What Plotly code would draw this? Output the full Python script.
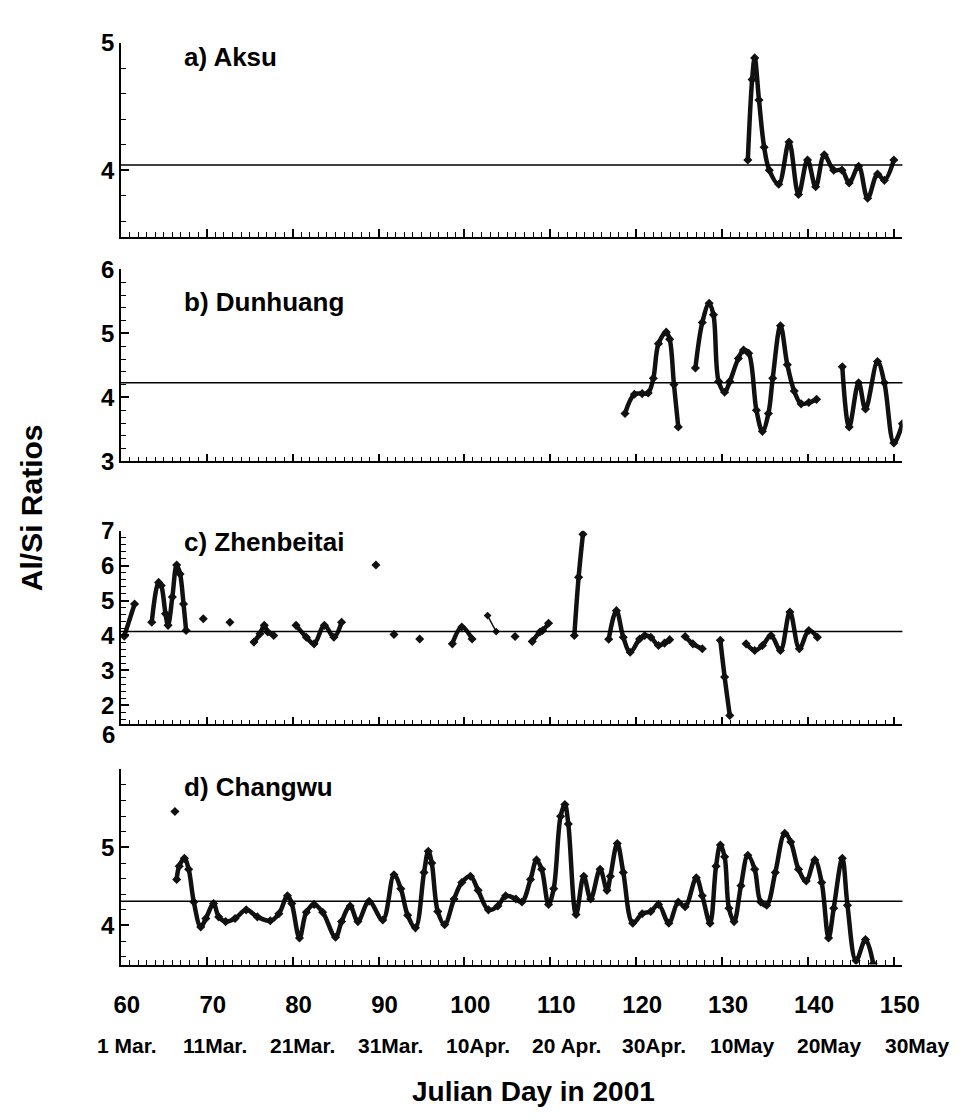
import plotly.graph_objects as go

# ---------------- data (Julian day, Al/Si ratio) ----------------
aksu_day = [133.0, 133.5, 133.8, 134.3, 134.9, 135.5, 136.6, 137.8, 138.9, 139.95, 140.9, 141.9,
            143.0, 143.96, 144.8, 145.9, 146.95, 148.1, 148.9, 150.0]
aksu_val = [4.08, 4.71, 4.88, 4.55, 4.18, 4.0, 3.89, 4.22, 3.81, 4.08, 3.87, 4.12,
            4.0, 4.0, 3.9, 4.03, 3.78, 3.97, 3.92, 4.08]

dun_day = [118.7, 119.8, 120.7, 121.4, 122.0, 122.6, 123.5, 123.9, 124.4, 124.9, None,
           126.9, 127.7, 128.5, 129.0, 129.6, 130.3, 130.9, 131.9, 132.5, 133.1, 134.0, 134.7,
           135.4, 135.9, 136.8, 137.6, 138.4, 139.2, 140.1, 141.0, None,
           144.0, 144.8, 145.9, 146.7, 148.1, 148.9, 150.0, 151.0]
dun_val = [3.75, 4.05, 4.06, 4.07, 4.3, 4.84, 5.02, 4.91, 4.2, 3.54, None,
           4.46, 5.17, 5.47, 5.29, 4.25, 4.08, 4.25, 4.61, 4.74, 4.69, 3.8, 3.47,
           3.75, 4.3, 5.12, 4.51, 4.1, 3.9, 3.92, 3.97, None,
           4.48, 3.54, 4.23, 3.82, 4.56, 4.23, 3.29, 3.59]

zhen_day = [60.4, 61.6, None,
            63.6, 64.4, 64.7, 65.2, 65.5, 66.0, 66.5, 66.9, 67.3, 67.6, None,
            69.6, None, 72.7, None,
            75.5, 76.2, 76.7, 77.1, 77.8, None,
            80.4, 81.6, 82.5, 83.7, 84.8, 85.7, None,
            89.7, None, 91.8, None, 94.8, None,
            98.6, 99.7, 100.9, None,
            105.9, None,
            107.9, 108.8, 109.1, 109.8, None,
            112.8, 113.3, 113.8, None,
            116.8, 117.7, 118.5, 119.3, 120.4, 121.0, 121.7, 122.6, 123.3, 123.9, None,
            125.7, 126.6, 127.7, None,
            129.8, 130.3, 130.9, None,
            132.8, 133.8, 134.7, 135.7, 136.8, 137.9, 139.0, 140.1, 141.1]
zhen_val = [3.98, 4.9, None,
            4.38, 5.52, 5.43, 4.62, 4.29, 5.1, 6.02, 5.76, 4.9, 4.14, None,
            4.48, None, 4.38, None,
            3.81, 4.05, 4.29, 4.1, 4.0, None,
            4.29, 3.95, 3.76, 4.29, 3.95, 4.38, None,
            6.02, None, 4.03, None, 3.9, None,
            3.76, 4.24, 3.9, None,
            3.97, None,
            3.83, 4.1, 4.14, 4.35, None,
            4.0, 5.67, 6.9, None,
            3.89, 4.71, 3.95, 3.52, 3.9, 4.0, 3.95, 3.71, 3.78, 3.88, None,
            3.97, 3.76, 3.62, None,
            3.86, 2.81, 1.71, None,
            3.76, 3.57, 3.71, 4.0, 3.57, 4.67, 3.62, 4.14, 3.95]
# short thin segment in Zhenbeitai
zhen_thin_day = [102.7, 103.7]
zhen_thin_val = [4.57, 4.11]

chang_day = [66.3, None,
             66.5, 66.8, 67.4, 67.9, 68.5, 69.3, 69.9, 70.8, 71.4, 72.2, 73.3, 74.6, 75.9, 77.4,
             78.4, 79.4, 79.9, 80.8, 81.6, 82.5, 83.5, 85.0, 85.7, 86.7, 87.6, 88.9, 90.5, 91.8,
             92.6, 93.4, 94.3, 95.3, 95.8, 96.2, 96.9, 97.7, 98.8, 99.7, 100.7, 101.6, 102.8,
             103.9, 104.8, 106.0, 106.7, 107.7, 108.4, 109.0, 109.8, 110.4, 111.2, 111.7, 112.1,
             113.0, 113.9, 114.7, 115.8, 116.6, 117.0, 117.8, 118.5, 119.6, 120.7, 121.7, 122.6,
             123.8, 124.9, 125.7, 127.0, 127.7, 128.6, 129.3, 129.8, 130.3, 130.8, 131.4, 132.2,
             133.0, 133.8, 134.5, 135.2, 136.2, 137.3, 138.0, 138.9, 139.8, 140.8, 141.6, 142.4,
             143.0, 144.0, 144.6, 145.6, 146.7, 147.6]
chang_val = [5.46, None,
             4.59, 4.76, 4.86, 4.72, 4.3, 3.98, 4.09, 4.28, 4.11, 4.05, 4.09, 4.2, 4.11, 4.06,
             4.15, 4.38, 4.28, 3.84, 4.17, 4.27, 4.17, 3.85, 4.05, 4.25, 4.05, 4.31, 4.07, 4.65,
             4.47, 4.13, 3.97, 4.68, 4.95, 4.8, 4.18, 4.01, 4.34, 4.55, 4.63, 4.45, 4.2,
             4.25, 4.38, 4.34, 4.3, 4.59, 4.84, 4.72, 4.27, 4.47, 5.4, 5.55, 5.3,
             4.14, 4.63, 4.34, 4.72, 4.45, 4.63, 5.05, 4.68, 4.03, 4.15, 4.18, 4.27,
             4.03, 4.3, 4.24, 4.61, 4.38, 4.03, 4.76, 5.03, 4.88, 4.22, 4.05, 4.51,
             4.9, 4.72, 4.3, 4.26, 4.68, 5.18, 5.07, 4.72, 4.57, 4.84, 4.55, 3.84,
             4.22, 4.86, 4.26, 3.55, 3.82, 3.51]

mean_lines = [4.04, 4.23, 4.11, 4.31]
panel_names = ["a) Aksu", "b) Dunhuang", "c) Zhenbeitai", "d) Changwu"]
y_ranges = [[3.48, 5], [3, 6], [1.45, 7], [3.5, 6]]

day_ticks = [60, 70, 80, 90, 100, 110, 120, 130, 140, 150]
date_labels = ["1 Mar.", "11Mar.", "21Mar.", "31Mar.", "10Apr.", "20 Apr.",
               "30Apr.", "10May", "20May", "30May"]

# ---------------- figure ----------------
W, H = 976, 1120
FONT = "Liberation Sans, Arial, Helvetica, sans-serif"

def py2p(py):
    return 1 - py / H

def xid(i):
    return "x" if i == 0 else f"x{i+1}"

def yid(i):
    return "y" if i == 0 else f"y{i+1}"

x_dom = [116.7 / W, 918 / W]
y_doms_px = [(29.3, 228), (261.7, 458.5), (529.5, 728), (774, 974)]

fig = go.Figure()

series = [(aksu_day, aksu_val), (dun_day, dun_val), (zhen_day, zhen_val), (chang_day, chang_val)]
for i, (d, v) in enumerate(series):
    fig.add_trace(go.Scatter(
        x=d, y=v, mode="lines+markers", xaxis=xid(i), yaxis=yid(i),
        line=dict(color="#111111", width=4.5, shape="spline", smoothing=1.0),
        marker=dict(symbol="diamond", size=7, color="#111111"),
        connectgaps=False, showlegend=False,
    ))
fig.add_trace(go.Scatter(
    x=zhen_thin_day, y=zhen_thin_val, mode="lines+markers", xaxis="x3", yaxis="y3",
    line=dict(color="#111111", width=1.5), marker=dict(symbol="diamond", size=6, color="#111111"),
    showlegend=False,
))

layout = dict(
    width=W, height=H, margin=dict(l=0, r=0, t=0, b=0),
    paper_bgcolor="white", plot_bgcolor="white",
    font=dict(family=FONT, color="black"),
    showlegend=False,
)

for i in range(4):
    top, bot = y_doms_px[i]
    xa = dict(
        domain=x_dom, range=[60, 151], anchor=yid(i),
        showline=True, linecolor="black", linewidth=1.5,
        ticks="inside", ticklen=8, tickwidth=1.5, tickcolor="black",
        tick0=60, dtick=10, showgrid=False, zeroline=False,
        minor=dict(ticks="inside", ticklen=5, tickwidth=1.2, tickcolor="black", dtick=1, tick0=60, showgrid=False),
        showticklabels=(i == 3),
    )
    if i > 0:
        xa["matches"] = "x"
    if i == 3:
        xa.update(tickvals=day_ticks, ticktext=[str(t) for t in day_ticks],
                  tickfont=dict(family=FONT, size=24, color="black", weight="bold"),
                  ticklabelstandoff=18, ticklabelshift=6)
    ya = dict(
        domain=[py2p(bot), py2p(top)], range=y_ranges[i], anchor=xid(i),
        showline=True, linecolor="black", linewidth=1.5,
        ticks="inside", ticklen=8, tickwidth=1.5, tickcolor="black",
        dtick=1, tick0=0, showgrid=False, zeroline=False,
        minor=dict(ticks="inside", ticklen=5, tickwidth=1.2, tickcolor="black", dtick=0.2, tick0=0, showgrid=False),
        tickfont=dict(family=FONT, size=24, color="black", weight="bold"),
    )
    if i == 3:
        ya.update(tickvals=[4, 5, 6], ticktext=["4", "5", ""])
    layout["xaxis" if i == 0 else f"xaxis{i+1}"] = xa
    layout["yaxis" if i == 0 else f"yaxis{i+1}"] = ya

fig.update_layout(**layout)

for i, m in enumerate(mean_lines):
    fig.add_shape(type="line", xref=f"{xid(i)} domain", yref=yid(i), x0=0, x1=1, y0=m, y1=m,
                  line=dict(color="black", width=1.5))

label_y_px = [44, 295, 541, 792]
annotations = []
for name, py in zip(panel_names, label_y_px):
    annotations.append(dict(text=f"<b>{name}</b>", xref="paper", yref="paper",
                            x=179 / W, y=py2p(py), xanchor="left", yanchor="middle",
                            showarrow=False, font=dict(family=FONT, size=26, color="black")))
# dates under tick numbers
for d, lab in zip(day_ticks, date_labels):
    annotations.append(dict(text=f"<b>{lab}</b>", xref="x4", yref="paper", x=d,
                            xshift=6 + (d - 60) * 0.2, y=py2p(1057), xanchor="center",
                            yanchor="middle", showarrow=False,
                            font=dict(family=FONT, size=21, color="black")))
# stray "6" tick label of panel d
annotations.append(dict(text="<b>6</b>", xref="paper", yref="paper", x=113 / W, y=py2p(738),
                        xanchor="right", yanchor="middle", showarrow=False,
                        font=dict(family=FONT, size=24, color="black")))
# axis titles
annotations.append(dict(text="<b>Al/Si Ratios</b>", xref="paper", yref="paper", x=25 / W,
                        y=py2p(506), textangle=-90, xanchor="center", yanchor="middle",
                        showarrow=False, font=dict(family=FONT, size=30, color="black")))
annotations.append(dict(text="<b>Julian Day in 2001</b>", xref="paper", yref="paper", x=540 / W,
                        y=py2p(1104), xanchor="center", yanchor="middle",
                        showarrow=False, font=dict(family=FONT, size=28, color="black")))
fig.update_layout(annotations=annotations)

fig.write_html("out.html")
